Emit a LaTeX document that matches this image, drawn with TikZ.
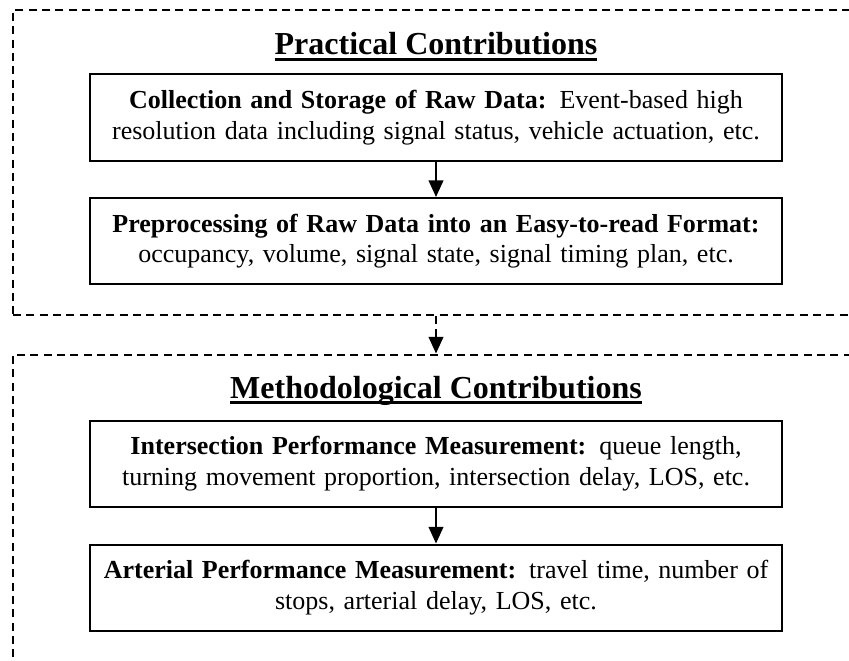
\documentclass[tikz,border=0pt]{standalone}
\usepackage{fontspec}
\setmainfont{Liberation Serif}
\usetikzlibrary{arrows.meta}
\tikzset{every picture/.style={line width=1.5pt}}
\tikzset{
  frame/.style={draw, dash pattern=on 6pt off 4pt, minimum width=634.5pt, inner sep=0pt},
  stepbox/.style={draw, minimum width=519pt, minimum height=64.5pt, text width=515pt, align=center, inner sep=0pt, font=\fontsize{19.5}{23}\selectfont},
  headline/.style={anchor=base, inner sep=0pt, font=\fontsize{24}{28}\selectfont\bfseries},
  flow/.style={-{Triangle[length=12.5pt,width=11pt]}}
}
\newcommand{\headrule}[1]{\setbox0\hbox{#1}\rlap{\rule[-4.5pt]{\wd0}{2pt}}\box0}

\begin{document}
\begin{tikzpicture}[x=0.75pt,y=0.75pt,yscale=-1,xscale=1]
\useasboundingbox (0,0) rectangle (849,660);
\clip (0,0) rectangle (849,660);

%Dashed frames
\node[frame, minimum height=228.75pt] (practical) at (436,162.5) {};
\node[frame, minimum height=300pt] (method) at (436,554.5) {};

% Headings
\node[headline] (practicalhead) at (436,55) {\headrule{Practical Contributions}};
\node[headline] (methodhead) at (436,398) {\headrule{Methodological Contributions}};

%Boxes
\node[stepbox] (rawdata) at (436,117.5) {\textbf{Collection and Storage of Raw Data:} Event-based high\\resolution data including signal status, vehicle actuation, etc.};
\node[stepbox] (preproc) at (436,241) {\textbf{Preprocessing of Raw Data into an Easy-to-read Format:}\\occupancy, volume, signal state, signal timing plan, etc.};
\node[stepbox] (intersect) at (436,463.5) {\textbf{Intersection Performance Measurement:} queue length,\\turning movement proportion, intersection delay, LOS, etc.};
\node[stepbox] (arterial) at (436,587.5) {\textbf{Arterial Performance Measurement:} travel time, number of\\stops, arterial delay, LOS, etc.};

%Arrows
\draw[flow] (rawdata) -- (preproc);
\draw[flow, dash pattern=on 6pt off 4pt] (practical.south) -- (method.north);
\draw[flow] (intersect) -- (arterial);

\end{tikzpicture}
\end{document}
